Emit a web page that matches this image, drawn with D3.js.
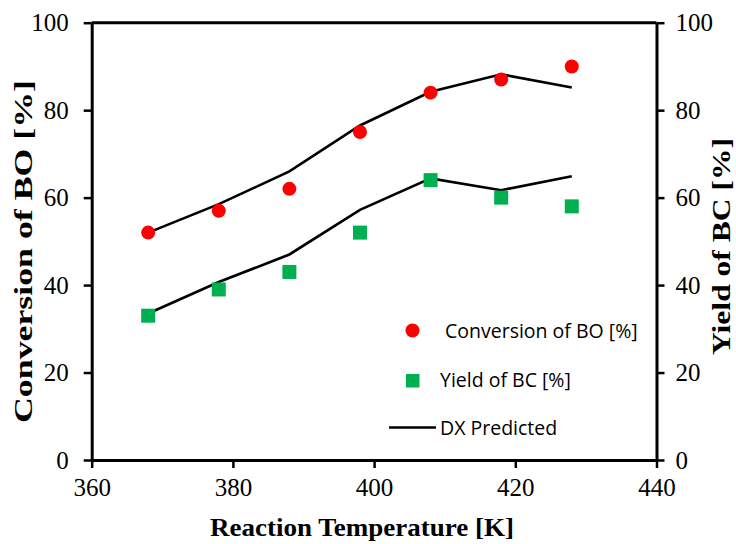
<!DOCTYPE html>
<html><head><meta charset="utf-8">
<script src="https://cdn.jsdelivr.net/npm/d3@7"></script>
<style>body{margin:0;background:#fff}</style>
</head><body><svg id="c" width="736" height="544"></svg>
<script>
const temps = [368, 378, 388, 398, 408, 418, 428];
const conversion = [52, 57, 62, 75, 84, 87, 90];
const yieldBC = [33, 39, 43, 52, 64, 60, 58];
const predConversion = [52, 58.5, 66, 76.5, 84.2, 88.2, 85.2];
const predYield = [33.5, 40.7, 47, 57.2, 64.4, 61.7, 64.9];
const xTicks = [360, 380, 400, 420, 440];
const yTicks = [0, 20, 40, 60, 80, 100];
const legendLabels = ["Conversion of BO [%]", "Yield of BC [%]", "DX Predicted"];

const svg = d3.select("#c");
const L = 91.7, R = 656.5, T = 22.7, B = 460;
const x = d3.scaleLinear().domain([360, 440]).range([L, R]);
const y = d3.scaleLinear().domain([0, 100]).range([B, T]);
const y2 = d3.scaleLinear().domain([0, 100]).range([B, T]);

const serif = "Liberation Serif, Times New Roman, serif";

function styleAxis(g) {
  g.attr("font-family", null).attr("font-size", null);
  g.style("font-family", serif).style("font-size", "25px");
  g.selectAll("path").attr("stroke", "#000").attr("stroke-width", 3);
  g.selectAll("line").attr("stroke", "#000").attr("stroke-width", 2.5);
  g.selectAll("text").style("font-family", serif).style("font-size", "25px").attr("fill", "#000");
}

// top frame
svg.append("line").attr("x1", L).attr("x2", R).attr("y1", T).attr("y2", T)
  .attr("stroke", "#000").attr("stroke-width", 3);

const gx = svg.append("g").attr("transform", `translate(0,${B})`)
  .call(d3.axisBottom(x).tickValues(xTicks).tickSize(8).tickSizeOuter(0).tickPadding(10));
styleAxis(gx);

const gy = svg.append("g").attr("transform", `translate(${L},0)`)
  .call(d3.axisLeft(y).tickValues(yTicks).tickSize(8).tickSizeOuter(0).tickPadding(15));
styleAxis(gy);

const gy2 = svg.append("g").attr("transform", `translate(${R},0)`)
  .call(d3.axisRight(y2).tickValues(yTicks).tickSize(8).tickSizeOuter(0).tickPadding(11));
styleAxis(gy2);

// titles
function title(tr, txt, len) {
  svg.append("text").attr("transform", tr)
    .attr("text-anchor", "middle").style("font-family", serif).attr("font-weight", "bold")
    .style("font-size", "26px").attr("textLength", len).attr("lengthAdjust", "spacingAndGlyphs")
    .text(txt);
}
title("translate(362,536)", "Reaction Temperature [K]", 304);
title("translate(32,251.5) rotate(-90)", "Conversion of BO [%]", 343);
title("translate(729.5,246.5) rotate(-90)", "Yield of BC [%]", 217);

// predicted lines
const line = (sc) => d3.line().x((d, i) => x(temps[i])).y(d => sc(d));
svg.append("path").datum(predConversion).attr("d", line(y))
  .attr("fill", "none").attr("stroke", "#000").attr("stroke-width", 2.6);
svg.append("path").datum(predYield).attr("d", line(y2))
  .attr("fill", "none").attr("stroke", "#000").attr("stroke-width", 2.6);

// markers
svg.selectAll("circle.cv").data(conversion).enter().append("circle")
  .attr("cx", (d, i) => x(temps[i])).attr("cy", d => y(d)).attr("r", 7).attr("fill", "#ff0000");
const s = 14;
svg.selectAll("rect.yb").data(yieldBC).enter().append("rect")
  .attr("x", (d, i) => x(temps[i]) - s / 2).attr("y", d => y2(d) - s / 2)
  .attr("width", s).attr("height", s).attr("fill", "#00b050");

// legend
const sans = "Open Sans, Noto Sans, sans-serif";
const lg = svg.append("g");
lg.append("circle").attr("cx", 412.5).attr("cy", 330.5).attr("r", 7).attr("fill", "#ff0000");
lg.append("rect").attr("x", 406).attr("y", 374).attr("width", 13.5).attr("height", 13.5).attr("fill", "#00b050");
lg.append("line").attr("x1", 389).attr("x2", 436).attr("y1", 427.5).attr("y2", 427.5)
  .attr("stroke", "#000").attr("stroke-width", 2.6);
const ly = [337.5, 387, 435], lx = [445, 440, 440];
legendLabels.forEach((t, i) => {
  lg.append("text").attr("x", lx[i]).attr("y", ly[i]).style("font-family", sans)
    .style("font-size", "19.5px").attr("fill", "#000").text(t);
});
</script></body></html>
